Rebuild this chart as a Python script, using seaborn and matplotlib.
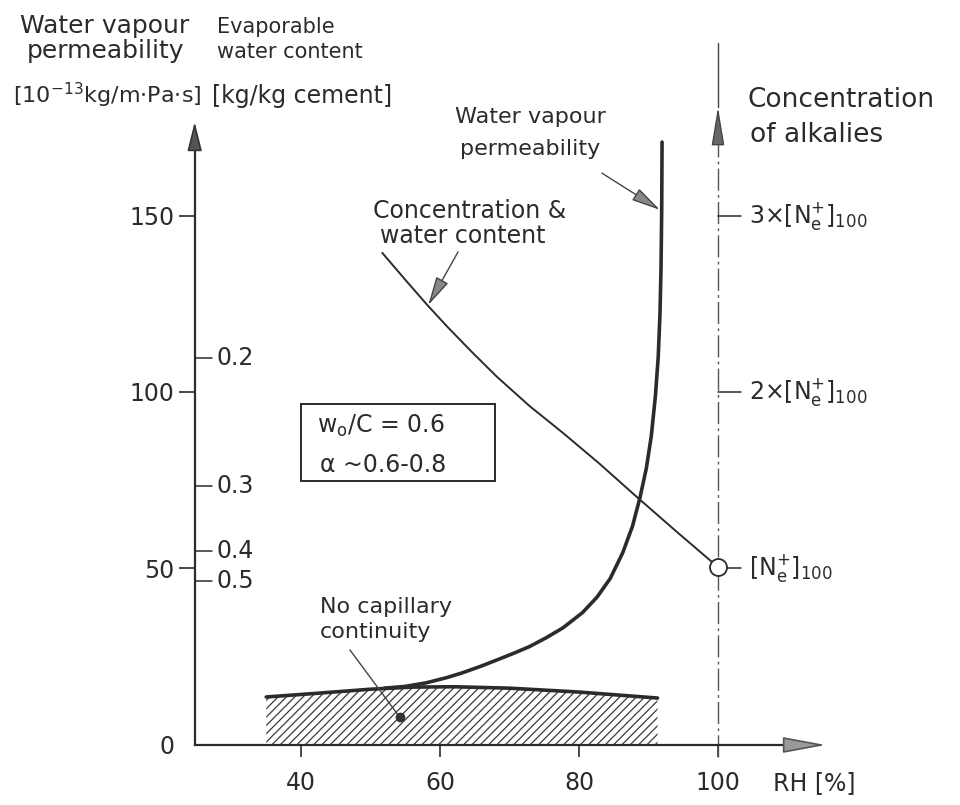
import matplotlib
matplotlib.use("Agg")
import matplotlib.pyplot as plt
import seaborn as sns

# ---------------- data ----------------
rh_ticks = [40, 60, 80, 100]
perm_ticks = [0, 50, 100, 150]
perm_tick_labels = ["0", "50", "100", "150"]

water_tick_labels = ["0.2", "0.3", "0.4", "0.5"]
water_tick_pos = [109.6, 73.4, 54.9, 46.5]          # on the permeability scale

alk_tick_labels = [r"[N$_{\mathrm{e}}^{+}$]$_{100}$",
                   r"2×[N$_{\mathrm{e}}^{+}$]$_{100}$",
                   r"3×[N$_{\mathrm{e}}^{+}$]$_{100}$"]
alk_tick_pos = [50, 100, 150]

# water vapour permeability curve
perm_rh = [52.0, 55.0, 58.0, 61.0, 63.3, 66.0, 68.2, 70.5, 72.9, 75.3, 77.7,
           80.5, 82.6, 84.5, 86.3, 87.7, 88.8, 89.7, 90.4, 91.0, 91.4, 91.65,
           91.8, 91.9, 91.95]
perm_val = [16.1, 16.6, 17.6, 19.1, 20.5, 22.4, 24.1, 25.9, 27.9, 30.4, 33.2,
            37.5, 41.9, 47.2, 54.5, 62.0, 70.3, 78.5, 87.5, 99.0, 110.0, 122.0,
            135.0, 151.6, 170.8]

# concentration & water content curve
conc_rh = [51.7, 55.0, 58.1, 61.0, 64.5, 68.2, 72.9, 77.7, 83.0, 88.3, 94.0, 100.0]
conc_val = [139.4, 131.8, 124.8, 118.6, 111.5, 104.3, 96.0, 88.4, 79.6, 70.3, 60.5, 50.4]

# "no capillary continuity" region (upper boundary)
nocap_rh = [35.0, 42.0, 50.0, 56.0, 62.0, 70.0, 80.0, 91.3]
nocap_top = [13.6, 14.6, 15.8, 16.4, 16.5, 16.1, 15.0, 13.3]

# ---------------- styling ----------------
sns.set_theme(style="white")
plt.rcParams["font.family"] = ["DejaVu Sans"]
plt.rcParams["mathtext.fontset"] = "dejavusans"
plt.rcParams["hatch.linewidth"] = 0.9
INK = "#2b2b2b"
FS = 17

fig = plt.figure(figsize=(9.6, 8.05), dpi=100)
ax = fig.add_axes([0, 0, 1, 1])
ax.set_xlim(-3.31, 134.82)
ax.set_ylim(-17.0, 211.05)
ax.patch.set_alpha(0)

# axes (spines) ---------------------------------------------------
X0 = 24.7
for s in ["top", "right"]:
    ax.spines[s].set_visible(False)
ax.spines["left"].set_position(("data", X0))
ax.spines["left"].set_bounds(0, 170)
ax.spines["bottom"].set_position(("data", 0))
ax.spines["bottom"].set_bounds(X0, 110)
for s in ["left", "bottom"]:
    ax.spines[s].set_color(INK)
    ax.spines[s].set_linewidth(1.6)

ax.set_xticks(rh_ticks)
ax.set_xticklabels([str(t) for t in rh_ticks])
ax.set_yticks(perm_ticks)
ax.set_yticklabels(perm_tick_labels)
ax.tick_params(axis="x", direction="out", length=8.6, width=1.2, pad=10,
               labelsize=FS, colors=INK, bottom=True)
ax.tick_params(axis="y", direction="out", length=11.5, width=1.2, pad=3,
               labelsize=FS, colors=INK, left=True)
ax.yaxis.get_major_ticks()[0].tick1line.set_visible(False)
ax.grid(False)

# axis arrowheads
ax.annotate("", xy=(X0, 176.5), xytext=(X0, 169.4),
            arrowprops=dict(arrowstyle="-|>,head_length=1.8,head_width=0.45",
                            mutation_scale=10, fc="#555", ec="#333", lw=1.2,
                            shrinkA=0, shrinkB=0))
ax.annotate("", xy=(115.5, 0), xytext=(109.5, 0),
            arrowprops=dict(arrowstyle="-|>,head_length=2.7,head_width=0.5",
                            mutation_scale=10, fc="#9a9a9a", ec="#555", lw=1.2,
                            shrinkA=0, shrinkB=0))

# right (alkali) axis: dashed line at RH = 100 with arrow
ax.plot([100, 100], [-3.5, 171.4], color="#555", lw=1.0,
        linestyle=(0, (16, 3, 2, 3)))
ax.annotate("", xy=(100, 180.7), xytext=(100, 171.4),
            arrowprops=dict(arrowstyle="-|>,head_length=2.4,head_width=0.4",
                            mutation_scale=10, fc="#666", ec="#444", lw=1.0,
                            shrinkA=0, shrinkB=0))
ax.plot([100, 100], [180.7, 199], color="#444", lw=1.0)
for pos, lab in zip(alk_tick_pos, alk_tick_labels):
    ax.plot([100.6 if pos == 50 else 100, 103.3], [pos, pos], color=INK, lw=1.1)
    ax.text(104.5, pos, lab, fontsize=FS, color=INK, va="center", ha="left")

# evaporable water content ticks
for pos, lab in zip(water_tick_pos, water_tick_labels):
    ax.plot([X0, 27.2], [pos, pos], color=INK, lw=1.1)
    ax.text(27.8, pos, lab, fontsize=FS, color=INK, va="center", ha="left")

# no-capillary-continuity hatched band
ax.fill_between(nocap_rh, 0, nocap_top, facecolor="white", edgecolor="#3a3a3a",
                hatch="////", linewidth=0, zorder=1)
sns.lineplot(x=nocap_rh, y=nocap_top, ax=ax, color=INK, lw=2.6,
             sort=False, estimator=None, zorder=3)

# curves
sns.lineplot(x=perm_rh, y=perm_val, ax=ax, color=INK, lw=2.6,
             sort=False, estimator=None, zorder=4)
sns.lineplot(x=conc_rh, y=conc_val, ax=ax, color=INK, lw=1.4,
             sort=False, estimator=None, zorder=4)
sns.scatterplot(x=[conc_rh[-1]], y=[conc_val[-1]], ax=ax, s=150,
                facecolor="white", edgecolor=INK, linewidth=1.3, zorder=6)

# ---------------- texts ----------------
ax.text(11.8, 201.7, "Water vapour", fontsize=18, color=INK, ha="center", va="baseline")
ax.text(11.8, 194.6, "permeability", fontsize=18, color=INK, ha="center", va="baseline")
ax.text(-1.4, 181.9, r"[10$^{-13}$kg/m$\cdot$Pa$\cdot$s]", fontsize=16,
        color=INK, ha="left", va="baseline")
ax.text(27.9, 201.7, "Evaporable", fontsize=15, color=INK, ha="left", va="baseline")
ax.text(27.9, 194.6, "water content", fontsize=15, color=INK, ha="left", va="baseline")
ax.text(27.2, 181.9, "[kg/kg cement]", fontsize=FS, color=INK, ha="left", va="baseline")

ax.text(104.3, 180.7, "Concentration", fontsize=19, color=INK, ha="left", va="baseline")
ax.text(104.6, 170.8, "of alkalies", fontsize=19, color=INK, ha="left", va="baseline")

ax.text(72.95, 176.2, "Water vapour", fontsize=16, color=INK, ha="center", va="baseline")
ax.text(72.95, 167.1, "permeability", fontsize=16, color=INK, ha="center", va="baseline")
ax.annotate("", xy=(91.65, 151.6), xytext=(83.3, 162.0),
            arrowprops=dict(arrowstyle="-|>,head_length=1.5,head_width=0.35",
                            mutation_scale=12, fc="#888", ec="#444", lw=1.0,
                            shrinkA=0, shrinkB=0))

ax.text(50.4, 149.3, "Concentration &", fontsize=17, color=INK, ha="left", va="baseline")
ax.text(51.4, 142.3, "water content", fontsize=17, color=INK, ha="left", va="baseline")
ax.annotate("", xy=(58.3, 124.6), xytext=(62.6, 139.7),
            arrowprops=dict(arrowstyle="-|>,head_length=1.5,head_width=0.35",
                            mutation_scale=12, fc="#888", ec="#444", lw=1.0,
                            shrinkA=0, shrinkB=0))

ax.text(42.7, 37.4, "No capillary", fontsize=16, color=INK, ha="left", va="baseline")
ax.text(42.7, 30.3, "continuity", fontsize=16, color=INK, ha="left", va="baseline")
ax.plot([47.05, 54.2], [26.9, 7.9], color="#444", lw=1.0, zorder=5)
ax.plot([54.2], [7.9], marker="o", ms=6, color="#333", zorder=5)

# parameter box
ax.add_patch(plt.Rectangle((40.0, 74.8), 27.9, 21.8, fill=False,
                           ec=INK, lw=1.4, zorder=5))
ax.text(42.3, 88.4, r"w$_\mathrm{o}$/C = 0.6", fontsize=FS, color=INK,
        ha="left", va="baseline")
ax.text(42.7, 77.3, "α ~0.6-0.8", fontsize=FS, color=INK,
        ha="left", va="baseline")

ax.text(107.9, -10.8, "RH [%]", fontsize=FS, color=INK, ha="left", va="center")

fig.savefig("out.png", dpi=100, facecolor="white")
